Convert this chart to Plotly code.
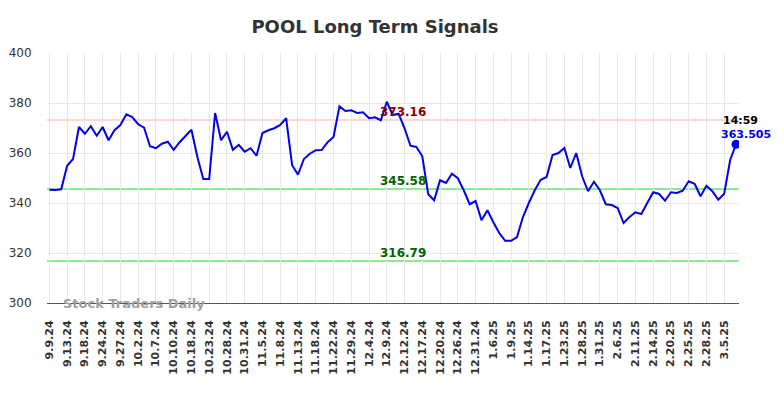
import plotly.graph_objects as go

# Tick labels (every 3rd trading session)
tick_labels = ["9.9.24", "9.13.24", "9.18.24", "9.24.24", "9.27.24", "10.2.24", "10.7.24",
               "10.10.24", "10.18.24", "10.23.24", "10.28.24", "10.31.24", "11.5.24", "11.8.24",
               "11.13.24", "11.18.24", "11.22.24", "11.29.24", "12.4.24", "12.9.24", "12.12.24",
               "12.17.24", "12.20.24", "12.26.24", "12.31.24", "1.6.25", "1.9.25", "1.14.25",
               "1.17.25", "1.23.25", "1.28.25", "1.31.25", "2.6.25", "2.11.25", "2.14.25",
               "2.20.25", "2.25.25", "2.28.25", "3.5.25"]

# Closing prices, one per session
prices = [345.3, 345.2, 345.5, 354.9, 357.6, 370.4, 367.7, 370.7, 366.9, 370.4,
          365.1, 369.1, 371.2, 375.5, 374.4, 371.5, 370.1, 362.7, 361.9, 363.7,
          364.5, 361.3, 364.3, 366.9, 369.3, 358.4, 349.6, 349.6, 376.0, 365.1,
          368.5, 361.3, 363.2, 360.5, 361.9, 358.9, 368.0, 369.1, 369.9, 371.2,
          373.9, 355.2, 351.3, 357.6, 359.7, 361.1, 361.2, 364.3, 366.4, 378.7,
          376.8, 377.1, 376.0, 376.3, 373.9, 374.3, 373.1, 380.5, 375.2, 375.7,
          369.9, 362.9, 362.4, 358.7, 343.5, 341.1, 349.1, 348.0, 351.7, 349.9,
          345.1, 339.5, 340.8, 333.1, 337.1, 332.3, 328.0, 324.9, 324.9, 326.4,
          334.4, 340.0, 345.1, 349.3, 350.4, 359.2, 360.0, 362.0, 354.0, 360.0,
          350.7, 344.7, 348.5, 345.1, 339.5, 339.2, 338.0, 332.0, 334.4, 336.3,
          335.6, 340.0, 344.3, 343.6, 340.9, 344.3, 344.0, 344.9, 348.7, 347.7,
          342.7, 346.9, 344.7, 341.3, 343.7, 357.1, 363.505]

resistance = 373.16
supports = [345.58, 316.79]
level_labels = ["373.16", "345.58", "316.79"]
last_time = "14:59"
last_label = "363.505"

x = list(range(len(prices)))
tick_idx = list(range(0, 3 * len(tick_labels), 3))

# page body has an 8px margin; size the figure so the plot lands where the reference has it
W, H = 776, 390

fig = go.Figure()

fig.add_trace(go.Scatter(x=x, y=prices, mode="lines",
                         line=dict(color="#0000ee", width=2), hoverinfo="skip",
                         showlegend=False))
fig.add_trace(go.Scatter(x=[x[-1]], y=[prices[-1]], mode="markers",
                         marker=dict(color="#0000ee", size=9), showlegend=False))

fig.add_hline(y=resistance, line=dict(color="#ffc8c8", width=1.5), layer="below")
for s in supports:
    fig.add_hline(y=s, line=dict(color="#90e890", width=2), layer="below")

label_x = 59.7
fig.add_annotation(x=label_x, y=resistance, text=level_labels[0], showarrow=False,
                   yanchor="bottom", yshift=-1,
                   font=dict(family="DejaVu Sans", size=12, color="#8b0000", weight="bold"))
for s, t in zip(supports, level_labels[1:]):
    fig.add_annotation(x=label_x, y=s, text=t, showarrow=False,
                       yanchor="bottom", yshift=-1,
                       font=dict(family="DejaVu Sans", size=12, color="#006400", weight="bold"))

fig.add_annotation(x=x[-1], y=prices[-1], text=last_time, showarrow=False,
                   xshift=4, yshift=24,
                   font=dict(family="DejaVu Sans", size=11, color="black", weight="bold"))
fig.add_annotation(x=x[-1], y=prices[-1], text=last_label, showarrow=False,
                   xshift=10, yshift=10,
                   font=dict(family="DejaVu Sans", size=11, color="#0000ee", weight="bold"))

fig.add_annotation(xref="paper", yref="paper", x=(134 - 47) / 692, y=0.0, text="Stock Traders Daily",
                   showarrow=False, xanchor="center", yanchor="middle",
                   font=dict(family="DejaVu Sans", size=13, color="#a0a0a0", weight="bold"))

fig.update_layout(
    width=W, height=H,
    margin=dict(l=39, r=45, t=45, b=95, autoexpand=False),
    paper_bgcolor="white", plot_bgcolor="white",
    title=dict(text="POOL Long Term Signals", x=(375 - 8) / W, xanchor="center",
               y=1 - (27 - 8) / H, yanchor="middle",
               font=dict(family="DejaVu Sans", size=18, color="#333333", weight="bold")),
    xaxis=dict(range=[-0.4, 116.5], tickmode="array", tickvals=tick_idx, ticktext=tick_labels,
               tickangle=-90, showgrid=True, gridcolor="#e8e8e8", gridwidth=1,
               zeroline=False, showline=True, linecolor="#555555", linewidth=1,
               ticks="outside", ticklen=12, tickcolor="rgba(0,0,0,0)", automargin=False,
               tickfont=dict(family="DejaVu Sans", size=11, color="#333333", weight="bold")),
    yaxis=dict(range=[300, 400], tickmode="array", tickvals=[300, 320, 340, 360, 380, 400],
               showgrid=True, gridcolor="#e8e8e8", gridwidth=1, zeroline=False,
               showline=False, ticks="outside", ticklen=12, tickcolor="rgba(0,0,0,0)",
               automargin=False,
               tickfont=dict(family="DejaVu Sans", size=12, color="#333333")),
)

fig.write_html("out.html")
